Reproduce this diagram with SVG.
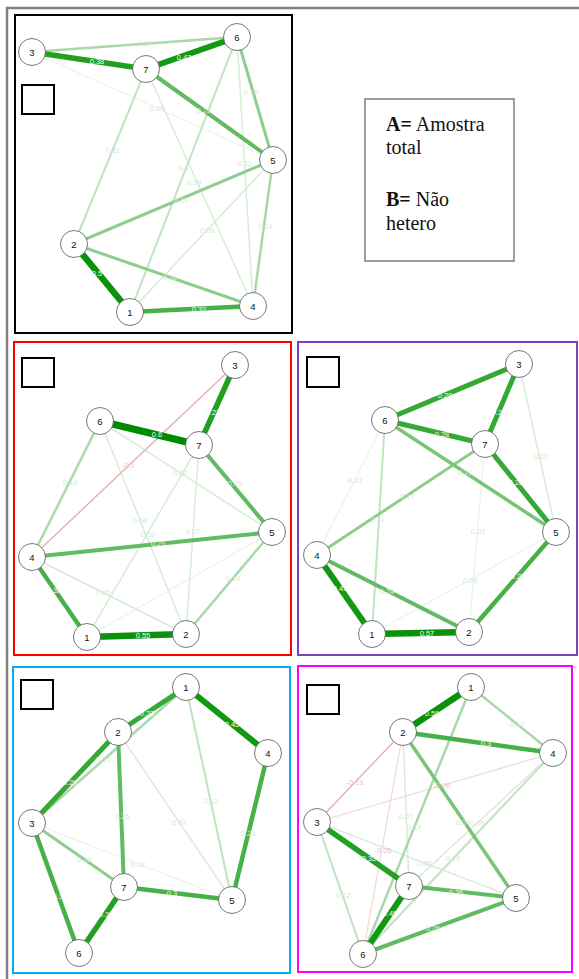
<svg xmlns="http://www.w3.org/2000/svg" width="579" height="979" viewBox="0 0 579 979">
<style>
  line { stroke-linecap: butt; }
  .e60 { stroke: #008c00; stroke-width: 7; }
  .e50 { stroke: #0a920a; stroke-width: 6.5; }
  .e45 { stroke: #139813; stroke-width: 6; }
  .e38 { stroke: #22a022; stroke-width: 5.5; }
  .e33 { stroke: #34a934; stroke-width: 5; }
  .e29 { stroke: #48b048; stroke-width: 4.5; }
  .e25 { stroke: #62bb62; stroke-width: 4; }
  .e21 { stroke: #78c478; stroke-width: 3.5; }
  .e17 { stroke: #8fcd8f; stroke-width: 3; }
  .e14 { stroke: #a9d8a9; stroke-width: 2.5; }
  .e11 { stroke: #c0e3c0; stroke-width: 2; }
  .e07 { stroke: #d6edd6; stroke-width: 1.5; }
  .e03 { stroke: #e8f4e8; stroke-width: 1.2; }
  .n13 { stroke: #e9b2b2; stroke-width: 1.5; }
  .n06 { stroke: #f3d6d6; stroke-width: 1.2; }
  .node circle { fill: #ffffff; stroke: #555555; stroke-width: 0.8; }
  .node text { font-family: "Liberation Sans", Arial, sans-serif; font-size: 9.5px; fill: #111111; text-anchor: middle; }
  .lbl text { font-family: "Liberation Sans", Arial, sans-serif; font-size: 7.5px; text-anchor: middle; }
  .ld { fill: #eef8ee; }
  .lm { fill: #d4ead4; }
  .lf { fill: #d8e6d8; }
  .lp { fill: #e9c4c4; }
  .frame { fill: none; stroke-width: 2; }
  .tag { fill: #ffffff; stroke: #000000; stroke-width: 2; }
  .legend text { font-family: "Liberation Serif", "Times New Roman", serif; font-size: 20px; fill: #111111; }
</style>

<!-- outer page border -->
<path d="M7 979 V8 H579" fill="none" stroke="#808080" stroke-width="2.5"/>

<!-- panel frames -->
<g id="frames">
  <rect class="frame" x="15" y="15" width="277" height="318" stroke="#000000"/>
  <rect class="frame" x="14" y="342" width="277" height="313" stroke="#ff0000"/>
  <rect class="frame" x="298" y="342" width="279" height="313" stroke="#7f3fbf"/>
  <rect class="frame" x="13" y="667" width="277" height="306" stroke="#00b0f0"/>
  <rect class="frame" x="298" y="666" width="274" height="306" stroke="#ff00ff"/>
</g>

<!-- empty tag boxes -->
<g id="tags">
  <rect class="tag" x="22" y="85" width="32" height="29"/>
  <rect class="tag" x="22" y="358" width="32" height="29"/>
  <rect class="tag" x="307" y="357" width="32" height="30"/>
  <rect class="tag" x="21" y="680" width="32" height="29"/>
  <rect class="tag" x="307" y="685" width="32" height="29"/>
</g>

<!-- legend -->
<g id="legend" class="legend">
  <rect x="365" y="99" width="149" height="162" fill="#ffffff" stroke="#808080" stroke-width="1.5"/>
  <text x="386" y="131"><tspan font-weight="bold">A=</tspan> Amostra</text>
  <text x="386" y="154">total</text>
  <text x="386" y="206"><tspan font-weight="bold">B=</tspan> Não</text>
  <text x="386" y="230">hetero</text>
</g>

<!-- ===== Panel A (total sample) ===== -->
<g id="edges-a">
  <line class="e03" x1="32" y1="52" x2="273" y2="160"/>
  <line class="e07" x1="237" y1="37" x2="253" y2="306"/>
  <line class="e07" x1="273" y1="160" x2="130" y2="312"/>
  <line class="e07" x1="146" y1="69" x2="253" y2="306"/>
  <line class="e11" x1="237" y1="37" x2="130" y2="312"/>
  <line class="e11" x1="146" y1="69" x2="74" y2="244"/>
  <line class="e14" x1="32" y1="52" x2="237" y2="37"/>
  <line class="e14" x1="273" y1="160" x2="253" y2="306"/>
  <line class="e17" x1="74" y1="244" x2="253" y2="306"/>
  <line class="e17" x1="273" y1="160" x2="74" y2="244"/>
  <line class="e17" x1="237" y1="37" x2="273" y2="160"/>
  <line class="e25" x1="146" y1="69" x2="273" y2="160"/>
  <line class="e29" x1="130" y1="312" x2="253" y2="306"/>
  <line class="e38" x1="32" y1="52" x2="146" y2="69"/>
  <line class="e45" x1="146" y1="69" x2="237" y2="37"/>
  <line class="e50" x1="74" y1="244" x2="130" y2="312"/>
</g>
<g id="labels-a" class="lbl">
  <text class="lm" x="145" y="46">0.14</text>
  <text class="ld" x="97" y="64">0.38</text>
  <text class="ld" x="184" y="60">0.47</text>
  <text class="lm" x="251" y="95">0.19</text>
  <text class="lm" x="204" y="113">0.25</text>
  <text class="lf" x="157" y="111">0.06</text>
  <text class="lf" x="113" y="153">0.11</text>
  <text class="lf" x="184" y="171">0.1</text>
  <text class="lf" x="194" y="185">0.09</text>
  <text class="lf" x="245" y="166">0.11</text>
  <text class="lm" x="181" y="203">0.19</text>
  <text class="lf" x="207" y="233">0.05</text>
  <text class="lm" x="265" y="229">0.14</text>
  <text class="ld" x="97" y="276">0.5</text>
  <text class="lm" x="170" y="280">0.16</text>
  <text class="ld" x="199" y="312">0.32</text>
</g>
<g id="a-n1" class="node"><circle cx="130" cy="312" r="13.5"/><text x="130" y="315.5">1</text></g>
<g id="a-n2" class="node"><circle cx="74" cy="244" r="13.5"/><text x="74" y="247.5">2</text></g>
<g id="a-n3" class="node"><circle cx="32" cy="52" r="13.5"/><text x="32" y="55.5">3</text></g>
<g id="a-n4" class="node"><circle cx="253" cy="306" r="13.5"/><text x="253" y="309.5">4</text></g>
<g id="a-n5" class="node"><circle cx="273" cy="160" r="13.5"/><text x="273" y="163.5">5</text></g>
<g id="a-n6" class="node"><circle cx="237" cy="37" r="13.5"/><text x="237" y="40.5">6</text></g>
<g id="a-n7" class="node"><circle cx="146" cy="69" r="13.5"/><text x="146" y="72.5">7</text></g>

<!-- ===== Red panel ===== -->
<g id="edges-r">
  <line class="e03" x1="272" y1="532" x2="87" y2="637"/>
  <line class="e07" x1="199" y1="445" x2="87" y2="637"/>
  <line class="e07" x1="199" y1="445" x2="186" y2="634"/>
  <line class="e07" x1="100" y1="421" x2="186" y2="634"/>
  <line class="e07" x1="100" y1="421" x2="272" y2="532"/>
  <line class="e07" x1="32" y1="557" x2="186" y2="634"/>
  <line class="n13" x1="235" y1="365" x2="32" y2="557"/>
  <line class="e14" x1="100" y1="421" x2="32" y2="557"/>
  <line class="e14" x1="272" y1="532" x2="186" y2="634"/>
  <line class="e25" x1="32" y1="557" x2="272" y2="532"/>
  <line class="e25" x1="199" y1="445" x2="272" y2="532"/>
  <line class="e29" x1="32" y1="557" x2="87" y2="637"/>
  <line class="e38" x1="235" y1="365" x2="199" y2="445"/>
  <line class="e50" x1="87" y1="637" x2="186" y2="634"/>
  <line class="e60" x1="100" y1="421" x2="199" y2="445"/>
</g>
<g id="labels-r" class="lbl">
  <text class="ld" x="213" y="415">0.27</text>
  <text class="ld" x="157" y="437">0.6</text>
  <text class="lm" x="235" y="486">0.29</text>
  <text class="lp" x="128" y="468">-0.1</text>
  <text class="lm" x="70" y="485">0.14</text>
  <text class="lf" x="180" y="476">0.07</text>
  <text class="lf" x="140" y="523">0.08</text>
  <text class="lf" x="148" y="537">0.09</text>
  <text class="lf" x="193" y="534">0.07</text>
  <text class="lm" x="158" y="546">0.29</text>
  <text class="lf" x="103" y="595">0.06</text>
  <text class="lm" x="233" y="581">0.14</text>
  <text class="ld" x="54" y="593">0.32</text>
  <text class="ld" x="143" y="638">0.55</text>
</g>
<g id="r-n1" class="node"><circle cx="87" cy="637" r="13.5"/><text x="87" y="640.5">1</text></g>
<g id="r-n2" class="node"><circle cx="186" cy="634" r="13.5"/><text x="186" y="637.5">2</text></g>
<g id="r-n3" class="node"><circle cx="235" cy="365" r="13.5"/><text x="235" y="368.5">3</text></g>
<g id="r-n4" class="node"><circle cx="32" cy="557" r="13.5"/><text x="32" y="560.5">4</text></g>
<g id="r-n5" class="node"><circle cx="272" cy="532" r="13.5"/><text x="272" y="535.5">5</text></g>
<g id="r-n6" class="node"><circle cx="100" cy="421" r="13.5"/><text x="100" y="424.5">6</text></g>
<g id="r-n7" class="node"><circle cx="199" cy="445" r="13.5"/><text x="199" y="448.5">7</text></g>

<!-- ===== Purple panel ===== -->
<g id="edges-p">
  <line class="e03" x1="385" y1="420" x2="317" y2="555"/>
  <line class="e03" x1="485" y1="444" x2="469" y2="632"/>
  <line class="e03" x1="372" y1="634" x2="556" y2="532"/>
  <line class="e07" x1="519" y1="364" x2="556" y2="532"/>
  <line class="e11" x1="385" y1="420" x2="372" y2="634"/>
  <line class="e17" x1="485" y1="444" x2="317" y2="555"/>
  <line class="e21" x1="385" y1="420" x2="556" y2="532"/>
  <line class="e25" x1="317" y1="555" x2="469" y2="632"/>
  <line class="e29" x1="469" y1="632" x2="556" y2="532"/>
  <line class="e33" x1="385" y1="420" x2="519" y2="364"/>
  <line class="e33" x1="519" y1="364" x2="485" y2="444"/>
  <line class="e33" x1="385" y1="420" x2="485" y2="444"/>
  <line class="e33" x1="485" y1="444" x2="556" y2="532"/>
  <line class="e45" x1="317" y1="555" x2="372" y2="634"/>
  <line class="e50" x1="372" y1="634" x2="469" y2="632"/>
</g>
<g id="labels-p" class="lbl">
  <text class="ld" x="445" y="398">0.28</text>
  <text class="ld" x="499" y="415">0.29</text>
  <text class="ld" x="442" y="437">0.28</text>
  <text class="lm" x="465" y="475">0.21</text>
  <text class="ld" x="516" y="485">0.28</text>
  <text class="lf" x="541" y="459">0.07</text>
  <text class="lm" x="407" y="499">0.17</text>
  <text class="lf" x="355" y="483">0.03</text>
  <text class="lm" x="378" y="522">0.11</text>
  <text class="lf" x="478" y="534">0.03</text>
  <text class="ld" x="340" y="591">0.41</text>
  <text class="lm" x="387" y="594">0.24</text>
  <text class="lf" x="470" y="583">0.03</text>
  <text class="ld" x="518" y="579">0.25</text>
  <text class="ld" x="427" y="636">0.57</text>
</g>
<g id="p-n1" class="node"><circle cx="372" cy="634" r="13.5"/><text x="372" y="637.5">1</text></g>
<g id="p-n2" class="node"><circle cx="469" cy="632" r="13.5"/><text x="469" y="635.5">2</text></g>
<g id="p-n3" class="node"><circle cx="519" cy="364" r="13.5"/><text x="519" y="367.5">3</text></g>
<g id="p-n4" class="node"><circle cx="317" cy="555" r="13.5"/><text x="317" y="558.5">4</text></g>
<g id="p-n5" class="node"><circle cx="556" cy="532" r="13.5"/><text x="556" y="535.5">5</text></g>
<g id="p-n6" class="node"><circle cx="385" cy="420" r="13.5"/><text x="385" y="423.5">6</text></g>
<g id="p-n7" class="node"><circle cx="485" cy="444" r="13.5"/><text x="485" y="447.5">7</text></g>

<!-- ===== Cyan panel ===== -->
<g id="edges-c">
  <line class="e03" x1="32" y1="823" x2="232" y2="900"/>
  <line class="e07" x1="118" y1="732" x2="232" y2="900"/>
  <line class="e11" x1="186" y1="687" x2="232" y2="900"/>
  <line class="e14" x1="186" y1="687" x2="32" y2="823"/>
  <line class="e17" x1="32" y1="823" x2="124" y2="887"/>
  <line class="e25" x1="118" y1="732" x2="124" y2="887"/>
  <line class="e29" x1="268" y1="753" x2="232" y2="900"/>
  <line class="e29" x1="32" y1="823" x2="79" y2="953"/>
  <line class="e29" x1="124" y1="887" x2="232" y2="900"/>
  <line class="e33" x1="118" y1="732" x2="32" y2="823"/>
  <line class="e33" x1="186" y1="687" x2="118" y2="732"/>
  <line class="e38" x1="124" y1="887" x2="79" y2="953"/>
  <line class="e45" x1="186" y1="687" x2="268" y2="753"/>
</g>
<g id="labels-c" class="lbl">
  <text class="ld" x="147" y="716">0.33</text>
  <text class="ld" x="232" y="727">0.45</text>
  <text class="lm" x="103" y="762">0.15</text>
  <text class="ld" x="70" y="785">0.29</text>
  <text class="lm" x="122" y="819">0.25</text>
  <text class="lf" x="179" y="825">0.07</text>
  <text class="lm" x="211" y="804">0.12</text>
  <text class="lm" x="248" y="836">0.28</text>
  <text class="lm" x="84" y="862">0.18</text>
  <text class="lf" x="138" y="867">0.02</text>
  <text class="ld" x="58" y="899">0.3</text>
  <text class="ld" x="172" y="896">0.3</text>
  <text class="ld" x="106" y="917">0.38</text>
</g>
<g id="c-n1" class="node"><circle cx="186" cy="687" r="13.5"/><text x="186" y="690.5">1</text></g>
<g id="c-n2" class="node"><circle cx="118" cy="732" r="13.5"/><text x="118" y="735.5">2</text></g>
<g id="c-n3" class="node"><circle cx="32" cy="823" r="13.5"/><text x="32" y="826.5">3</text></g>
<g id="c-n4" class="node"><circle cx="268" cy="753" r="13.5"/><text x="268" y="756.5">4</text></g>
<g id="c-n5" class="node"><circle cx="232" cy="900" r="13.5"/><text x="232" y="903.5">5</text></g>
<g id="c-n6" class="node"><circle cx="79" cy="953" r="13.5"/><text x="79" y="956.5">6</text></g>
<g id="c-n7" class="node"><circle cx="124" cy="887" r="13.5"/><text x="124" y="890.5">7</text></g>

<!-- ===== Magenta panel ===== -->
<g id="edges-m">
  <line class="n06" x1="317" y1="822" x2="553" y2="753"/>
  <line class="n06" x1="403" y1="732" x2="363" y2="954"/>
  <line class="e07" x1="317" y1="822" x2="516" y2="898"/>
  <line class="e07" x1="403" y1="732" x2="409" y2="886"/>
  <line class="e07" x1="553" y1="753" x2="409" y2="886"/>
  <line class="n13" x1="403" y1="732" x2="317" y2="822"/>
  <line class="e11" x1="553" y1="753" x2="363" y2="954"/>
  <line class="e11" x1="317" y1="822" x2="363" y2="954"/>
  <line class="e14" x1="471" y1="687" x2="553" y2="753"/>
  <line class="e14" x1="471" y1="687" x2="363" y2="954"/>
  <line class="e21" x1="403" y1="732" x2="516" y2="898"/>
  <line class="e25" x1="409" y1="886" x2="516" y2="898"/>
  <line class="e25" x1="363" y1="954" x2="516" y2="898"/>
  <line class="e29" x1="403" y1="732" x2="553" y2="753"/>
  <line class="e38" x1="317" y1="822" x2="409" y2="886"/>
  <line class="e45" x1="409" y1="886" x2="363" y2="954"/>
  <line class="e50" x1="471" y1="687" x2="403" y2="732"/>
</g>
<g id="labels-m" class="lbl">
  <text class="ld" x="432" y="716">0.56</text>
  <text class="lm" x="517" y="727">0.17</text>
  <text class="ld" x="486" y="746">0.3</text>
  <text class="lp" x="355" y="785">-0.13</text>
  <text class="lp" x="442" y="788">-0.06</text>
  <text class="lm" x="463" y="825">0.24</text>
  <text class="lf" x="477" y="826">0.05</text>
  <text class="lm" x="414" y="830">0.17</text>
  <text class="lf" x="406" y="819">0.07</text>
  <text class="lp" x="383" y="853">-0.05</text>
  <text class="ld" x="369" y="861">0.35</text>
  <text class="lf" x="424" y="866">0.05</text>
  <text class="lm" x="453" y="861">0.14</text>
  <text class="lm" x="343" y="898">0.12</text>
  <text class="ld" x="456" y="895">0.26</text>
  <text class="ld" x="390" y="916">0.45</text>
  <text class="lm" x="433" y="931">0.25</text>
</g>
<g id="m-n1" class="node"><circle cx="471" cy="687" r="13.5"/><text x="471" y="690.5">1</text></g>
<g id="m-n2" class="node"><circle cx="403" cy="732" r="13.5"/><text x="403" y="735.5">2</text></g>
<g id="m-n3" class="node"><circle cx="317" cy="822" r="13.5"/><text x="317" y="825.5">3</text></g>
<g id="m-n4" class="node"><circle cx="553" cy="753" r="13.5"/><text x="553" y="756.5">4</text></g>
<g id="m-n5" class="node"><circle cx="516" cy="898" r="13.5"/><text x="516" y="901.5">5</text></g>
<g id="m-n6" class="node"><circle cx="363" cy="954" r="13.5"/><text x="363" y="957.5">6</text></g>
<g id="m-n7" class="node"><circle cx="409" cy="886" r="13.5"/><text x="409" y="889.5">7</text></g>
</svg>
